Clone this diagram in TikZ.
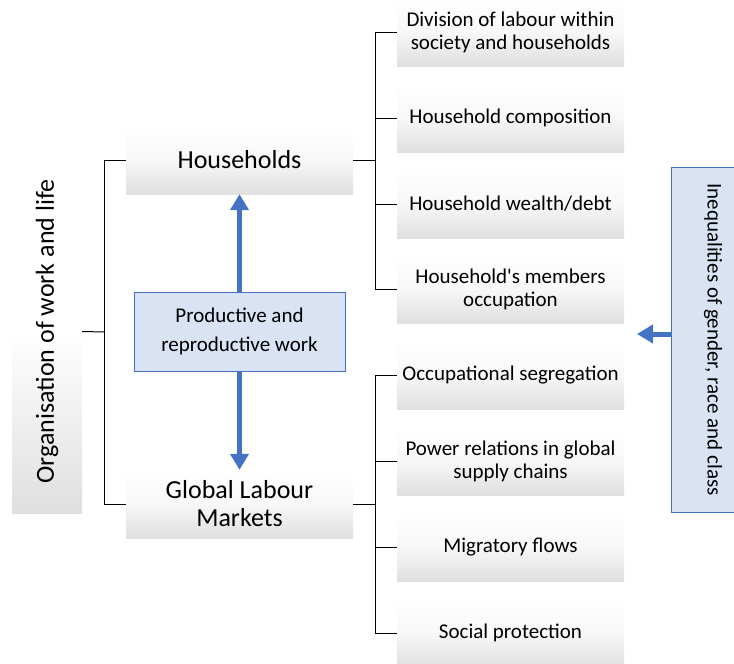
\documentclass[tikz,border=0pt]{standalone}
\usepackage{fontspec}
\setmainfont{Carlito}
\usetikzlibrary{arrows.meta}
\definecolor{boxblue}{HTML}{DAE3F3}
\definecolor{lineblue}{HTML}{4472C4}

\begin{document}
\begin{tikzpicture}[x=1pt,y=-1pt,
  graybox/.style={minimum width=227pt, minimum height=68pt, inner sep=0pt, align=center,
    top color=white, bottom color=gray!25, middle color=white!94!gray},
  leaf/.style={graybox, font=\fontsize{21}{23}\selectfont},
  branch/.style={graybox, font=\fontsize{26}{28}\selectfont},
  bluebox/.style={draw=lineblue, line width=0.8pt, fill=boxblue, inner sep=0pt, align=center},
  bigarrow/.style={line width=5pt, lineblue, -{Triangle[width=18pt,length=16pt]}},
  bracket/.style={black, line width=1pt}]
\useasboundingbox (0,0) rectangle (734,664);

\coordinate (hspine) at (375,160);
\coordinate (gspine) at (375,504);
\coordinate (ospine) at (104,332);
\coordinate (ineqtip) at (637,334);

\node [rotate=90, minimum width=363pt, minimum height=70pt, inner sep=0pt,
  top color=white, bottom color=gray!25, middle color=white,
  font=\fontsize{26}{28}\selectfont] (org) at (47,331.5) {Organisation of work and life};
\node [branch] (hh) at (239.5,160) {Households};
\node [branch] (glm) at (239.5,504) {Global Labour\\Markets};
\node [bluebox, minimum width=211pt, minimum height=79pt, font=\fontsize{21}{29}\selectfont]
  (prw) at (239.5,331.5) {Productive and\\reproductive work};

\node [leaf] (div) at (510.5,32) {Division of labour within\\society and households};
\node [leaf] (comp) at (510.5,118) {Household composition};
\node [leaf] (wealth) at (510.5,204) {Household wealth/debt};
\node [leaf] (memb) at (510.5,289) {Household\textquotesingle s members\\occupation};
\node [leaf] (seg) at (510.5,375) {Occupational segregation};
\node [leaf] (power) at (510.5,461) {Power relations in global\\supply chains};
\node [leaf] (migr) at (510.5,547) {Migratory flows};
\node [leaf] (soc) at (510.5,633) {Social protection};

\node [bluebox, rotate=-90, minimum width=345pt, minimum height=84pt,
  font=\fontsize{21}{23}\selectfont] (ineq) at (713,339.5) {Inequalities of gender, race and class};

\draw [bracket] (org.south) -- (ospine);
\foreach \n in {hh,glm} \draw [bracket] (\n.west) -| (ospine);
\draw [bracket] (hh.east) -- (hspine);
\foreach \n in {div,comp,wealth,memb} \draw [bracket] (\n.west) -| (hspine);
\draw [bracket] (glm.east) -- (gspine);
\foreach \n in {seg,power,migr,soc} \draw [bracket] (\n.west) -| (gspine);

\draw [bigarrow] (prw.north) -- (hh.south);
\draw [bigarrow] (prw.south) -- (glm.north);
\draw [bigarrow] (ineqtip -| ineq.south) -- (ineqtip);
\end{tikzpicture}
\end{document}
